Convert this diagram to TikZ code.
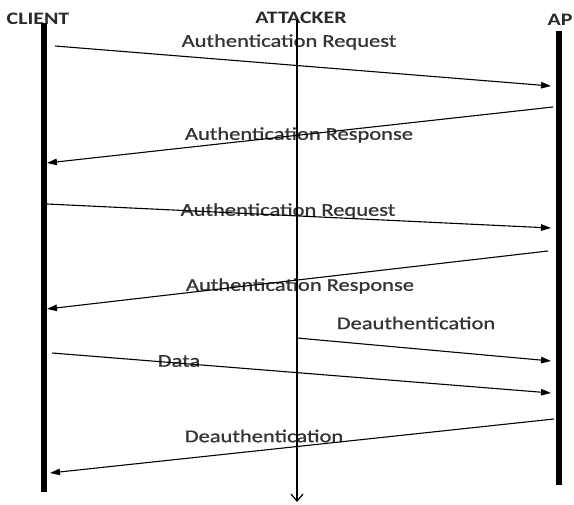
\documentclass[tikz,border=0pt]{standalone}
\usepackage{fontspec}
\setmainfont{Carlito}
\newfontfamily\msgfont{Carlito}[FakeBold=0.7]
\usetikzlibrary{arrows.meta}
\definecolor{hdrcol}{HTML}{2A2A2A}
\definecolor{msgcol}{HTML}{333338}
\newcommand\stretchtxt[1]{\scalebox{1.25}[1]{#1}}
\tikzset{
  hdr/.style={font=\fontsize{17.5}{20}\selectfont\bfseries, text=hdrcol, inner sep=0pt},
  msglbl/.style={font=\msgfont\fontsize{18}{21}\selectfont, text=msgcol, inner sep=0pt},
  lifebar/.style={line width=6pt, black},
  attline/.style={line width=1.2pt, black, -{Straight Barb[length=7pt,width=12pt,line width=1.2pt]}},
  msgarrow/.style={line width=1.1pt, black, -{Triangle[length=10pt,width=6.5pt]}}
}
\begin{document}
\begin{tikzpicture}[x=1pt,y=-1pt]
\useasboundingbox (0,0) rectangle (574,505);
\fill[white] (0,0) rectangle (574,505);
% headers
\node[hdr] (client) at (38,19) {\stretchtxt{CLIENT}};
\node[hdr] (attacker) at (301,18) {\stretchtxt{ATTACKER}};
\node[hdr] (ap) at (560,20) {\stretchtxt{AP}};
% lifelines
\coordinate (ctop) at (44,23);
\coordinate (cbot) at (44,492);
\coordinate (atop) at (559,31);
\coordinate (abot) at (559,485);
\coordinate (ktop) at (297,20);
\coordinate (kbot) at (297,502);
\draw[lifebar] (ctop) -- (cbot);
\draw[lifebar] (atop) -- (abot);
% message end points
\coordinate (m1s) at (55,46);   \coordinate (m1e) at (551,86);
\coordinate (m2s) at (553,107); \coordinate (m2e) at (47,163);
\coordinate (m3s) at (47,204);  \coordinate (m3e) at (551,228);
\coordinate (m4s) at (548,251); \coordinate (m4e) at (47,309);
\coordinate (m5s) at (297,338); \coordinate (m5e) at (551,361);
\coordinate (m6s) at (52,353);  \coordinate (m6e) at (551,393);
\coordinate (m7s) at (554,419); \coordinate (m7e) at (50,473);
% labels
\node[msglbl] (l1) at (289,42) {\stretchtxt{Authentication Request}};
\node[msglbl] (l2) at (299,135) {\stretchtxt{Authentication Response}};
\node[msglbl] (l3) at (288,211) {\stretchtxt{Authentication Request}};
\node[msglbl] (l4) at (300,286) {\stretchtxt{Authentication Response}};
\node[msglbl] (l5) at (416,323) {\stretchtxt{Deauthentication}};
\node[msglbl] (l6) at (179,361) {\stretchtxt{Data}};
\node[msglbl] (l7) at (264,436) {\stretchtxt{Deauthentication}};
% attacker line
\draw[attline] (ktop) -- (kbot);
% messages
\draw[msgarrow] (m1s) -- (m1e);
\draw[msgarrow] (m2s) -- (m2e);
\draw[msgarrow] (m3s) -- (m3e);
\draw[msgarrow] (m4s) -- (m4e);
\draw[msgarrow] (m5s) -- (m5e);
\draw[msgarrow] (m6s) -- (m6e);
\draw[msgarrow] (m7s) -- (m7e);
\end{tikzpicture}
\end{document}
